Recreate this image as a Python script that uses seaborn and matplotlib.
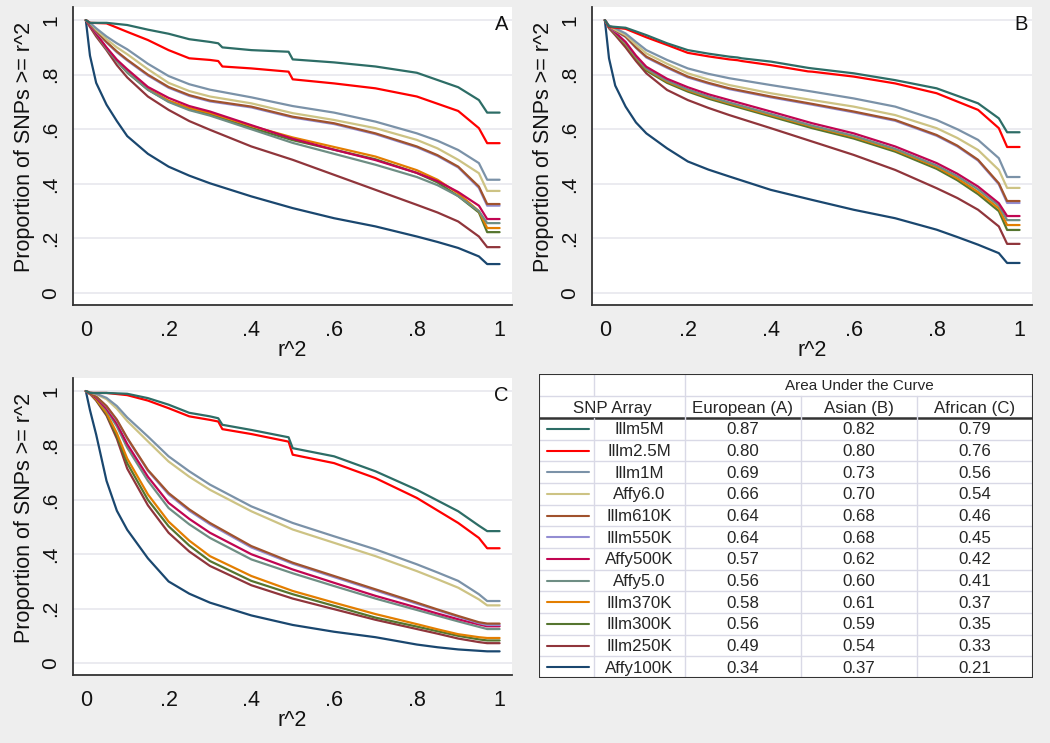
import numpy as np
import pandas as pd
import matplotlib
matplotlib.use("Agg")
import matplotlib.pyplot as plt
import seaborn as sns

# ---------------- data ----------------
ARRAYS = ["Illm5M", "Illm2.5M", "Illm1M", "Affy6.0", "Illm610K", "Illm550K",
          "Affy500K", "Affy5.0", "Illm370K", "Illm300K", "Illm250K", "Affy100K"]
COLORS = ["#2d6d66", "#ff0000", "#7b92a8", "#cdc384", "#a0522d", "#938dd2",
          "#c10552", "#6e8e84", "#e37e00", "#55752f", "#90353b", "#1a476f"]

AUC_EUROPEAN = [0.87, 0.80, 0.69, 0.66, 0.64, 0.64, 0.57, 0.56, 0.58, 0.56, 0.49, 0.34]
AUC_ASIAN = [0.82, 0.80, 0.73, 0.70, 0.68, 0.68, 0.62, 0.60, 0.61, 0.59, 0.54, 0.37]
AUC_AFRICAN = [0.79, 0.76, 0.56, 0.54, 0.46, 0.45, 0.42, 0.41, 0.37, 0.35, 0.33, 0.21]

# r^2 thresholds (common grid, and a finer one for the stepped top curves)
R2_GRID = [0, .01, .025, .05, .075, .1, .15, .2, .25, .3, .4, .5, .6, .7, .8, .85, .9, .95, .97, 1]
R2_STEP = [0, .01, .05, .1, .15, .2, .25, .3, .32, .33, .4, .49, .5, .6, .7, .8, .9, .95, .97, 1]
STEP_ARRAYS = ["Illm5M", "Illm2.5M"]

PANEL_A = {
    "Illm5M":   [1, .99, .99, .982, .965, .95, .93, .92, .915, .90, .89, .884, .856, .845, .83, .807, .754, .707, .661, .661],
    "Illm2.5M": [1, .99, .988, .957, .927, .89, .86, .854, .85, .83, .823, .811, .783, .768, .75, .72, .667, .604, .549, .549],
    "Illm1M":   [1, .99, .97, .94, .915, .893, .84, .795, .765, .745, .717, .685, .661, .628, .585, .558, .524, .476, .415, .415],
    "Affy6.0":  [1, .99, .965, .93, .90, .875, .82, .77, .74, .72, .695, .659, .634, .604, .561, .53, .488, .439, .374, .374],
    "Illm610K": [1, .985, .96, .92, .885, .855, .80, .755, .725, .705, .683, .646, .622, .585, .537, .505, .463, .39, .326, .326],
    "Illm550K": [1, .985, .958, .918, .882, .852, .797, .752, .722, .702, .68, .643, .619, .582, .534, .502, .46, .385, .32, .32],
    "Affy500K": [1, .98, .95, .90, .855, .82, .755, .715, .685, .665, .615, .565, .525, .487, .44, .41, .37, .32, .271, .271],
    "Affy5.0":  [1, .98, .948, .895, .85, .81, .745, .70, .67, .65, .60, .55, .51, .47, .425, .395, .355, .30, .256, .256],
    "Illm370K": [1, .98, .948, .897, .852, .812, .748, .705, .678, .66, .612, .57, .535, .50, .45, .415, .365, .30, .238, .238],
    "Illm300K": [1, .98, .947, .895, .85, .808, .745, .702, .675, .655, .605, .56, .525, .49, .44, .405, .355, .295, .223, .223],
    "Illm250K": [1, .975, .94, .89, .835, .79, .72, .671, .63, .598, .537, .488, .433, .378, .323, .295, .262, .207, .168, .168],
    "Affy100K": [1, .87, .77, .69, .63, .575, .51, .463, .43, .402, .354, .311, .274, .244, .207, .187, .165, .134, .106, .106],
}
PANEL_B = {
    "Illm5M":   [1, .977, .972, .945, .915, .89, .877, .866, .863, .86, .848, .825, .823, .805, .78, .75, .695, .64, .589, .589],
    "Illm2.5M": [1, .975, .968, .937, .909, .88, .867, .856, .853, .85, .835, .812, .811, .793, .768, .732, .671, .604, .535, .535],
    "Illm1M":   [1, .98, .97, .951, .92, .89, .854, .823, .803, .787, .762, .738, .713, .683, .634, .60, .561, .494, .425, .425],
    "Affy6.0":  [1, .978, .965, .945, .91, .878, .84, .805, .782, .762, .732, .707, .683, .652, .604, .568, .524, .451, .385, .385],
    "Illm610K": [1, .976, .962, .94, .90, .866, .828, .793, .77, .75, .72, .693, .665, .634, .579, .54, .488, .402, .337, .337],
    "Illm550K": [1, .975, .96, .938, .898, .863, .825, .79, .767, .747, .717, .69, .662, .631, .576, .537, .485, .398, .33, .33],
    "Affy500K": [1, .975, .955, .92, .87, .829, .785, .754, .728, .707, .665, .622, .585, .537, .476, .437, .39, .329, .282, .282],
    "Affy5.0":  [1, .974, .953, .915, .865, .822, .778, .746, .72, .698, .656, .613, .576, .528, .467, .428, .38, .32, .267, .267],
    "Illm370K": [1, .974, .952, .913, .863, .82, .775, .743, .717, .695, .652, .61, .572, .524, .462, .42, .37, .31, .249, .249],
    "Illm300K": [1, .973, .95, .91, .86, .815, .77, .738, .712, .69, .647, .604, .566, .518, .455, .413, .362, .30, .231, .231],
    "Illm250K": [1, .97, .945, .90, .85, .805, .744, .707, .678, .652, .604, .555, .506, .451, .384, .348, .305, .244, .18, .18],
    "Affy100K": [1, .86, .76, .683, .625, .585, .53, .482, .452, .427, .378, .341, .305, .274, .232, .205, .177, .146, .11, .11],
}
PANEL_C = {
    "Illm5M":   [1, .993, .993, .99, .974, .95, .92, .907, .90, .876, .857, .83, .79, .76, .705, .637, .558, .505, .485, .485],
    "Illm2.5M": [1, .993, .993, .985, .965, .937, .907, .894, .888, .86, .842, .814, .766, .735, .68, .607, .515, .46, .422, .422],
    "Illm1M":   [1, .995, .99, .975, .945, .903, .833, .76, .705, .656, .576, .515, .466, .418, .363, .333, .302, .253, .228, .228],
    "Affy6.0":  [1, .995, .988, .97, .935, .89, .815, .741, .685, .637, .558, .491, .442, .393, .338, .308, .277, .234, .212, .212],
    "Illm610K": [1, .99, .98, .945, .895, .828, .71, .625, .565, .515, .43, .369, .32, .271, .222, .197, .173, .15, .145, .145],
    "Illm550K": [1, .99, .98, .943, .892, .825, .707, .62, .56, .51, .425, .365, .316, .267, .218, .194, .17, .147, .14, .14],
    "Affy500K": [1, .99, .975, .935, .88, .805, .685, .589, .53, .479, .40, .344, .295, .247, .204, .182, .161, .142, .135, .135],
    "Affy5.0":  [1, .99, .975, .93, .87, .792, .67, .57, .51, .46, .381, .33, .283, .237, .195, .174, .153, .133, .125, .125],
    "Illm370K": [1, .99, .97, .92, .845, .752, .62, .52, .45, .393, .32, .265, .222, .18, .143, .124, .106, .095, .092, .092],
    "Illm300K": [1, .99, .968, .915, .835, .735, .60, .503, .432, .375, .302, .253, .21, .167, .134, .117, .10, .087, .083, .083],
    "Illm250K": [1, .99, .965, .91, .825, .715, .58, .479, .41, .357, .286, .237, .198, .159, .125, .108, .09, .077, .073, .073],
    "Affy100K": [1, .93, .84, .67, .56, .49, .385, .30, .255, .222, .175, .14, .115, .095, .068, .058, .05, .045, .043, .043],
}

PANEL_LETTERS = ["A", "B", "C"]
TICKS = [0, .2, .4, .6, .8, 1]
TICK_LABELS = ["0", ".2", ".4", ".6", ".8", "1"]
Y_LABEL = "Proportion of SNPs >= r^2"
X_LABEL = "r^2"
TABLE_TITLE = "Area Under the Curve"
TABLE_HEADERS = ["SNP Array", "European (A)", "Asian (B)", "African (C)"]

# ---------------- styling ----------------
sns.set_style("white")
plt.rcParams["font.family"] = ["Liberation Sans", "DejaVu Sans"]
BG = "#eeeeee"
palette = dict(zip(ARRAYS, COLORS))


def long_frame(panel):
    rows = []
    for name in ARRAYS:
        xs = R2_STEP if name in STEP_ARRAYS else R2_GRID
        for x, y in zip(xs, panel[name]):
            rows.append({"array": name, "r2": x, "prop": y})
    return pd.DataFrame(rows)


fig = plt.figure(figsize=(10.5, 7.43), dpi=100, facecolor=BG)
W, H = 1050.0, 743.0


def px_axes(left, top, right, bottom):
    return fig.add_axes([left / W, (H - bottom) / H, (right - left) / W, (bottom - top) / H])


axA = px_axes(73, 7, 512, 305)
axB = px_axes(592, 7, 1032, 305)
axC = px_axes(73, 378, 512, 675)

for ax, panel, letter in zip([axA, axB, axC], [PANEL_A, PANEL_B, PANEL_C], PANEL_LETTERS):
    df = long_frame(panel)
    sns.lineplot(data=df, x="r2", y="prop", hue="array", hue_order=ARRAYS[::-1],
                 palette=palette, estimator=None, sort=False, legend=False,
                 linewidth=1.6, ax=ax)
    ax.set_facecolor("white")
    ax.set_xlim(-0.031, 1.030)
    ax.set_ylim(-0.044, 1.048)
    ax.set_xticks(TICKS)
    ax.set_xticklabels(TICK_LABELS, fontsize=15.5)
    ax.set_yticks(TICKS)
    ax.set_yticklabels(TICK_LABELS, fontsize=15, rotation=90, va="center")
    ax.grid(axis="y", color="#e8e8ee", linewidth=1.2)
    ax.set_axisbelow(True)
    for s in ["top", "right"]:
        ax.spines[s].set_visible(False)
    for s in ["left", "bottom"]:
        ax.spines[s].set_color("#333333")
        ax.spines[s].set_linewidth(1.3)
    ax.tick_params(axis="both", direction="out", length=6, width=1.2, color="#333333",
                   labelcolor="#111111")
    ax.tick_params(axis="x", pad=5)
    ax.tick_params(axis="y", pad=3)
    ax.set_xlabel(X_LABEL, fontsize=15.5, labelpad=-1, color="#111111")
    ax.set_ylabel(Y_LABEL, fontsize=15.5, color="#111111")
    ax.yaxis.set_label_coords(-0.086, 0.53)
    ax.text(1.004, 0.985, letter, fontsize=14.5, ha="center", va="center", color="#111111")

# ---------------- AUC table ----------------
axT = px_axes(539, 374, 1033, 678)
TW, TH = 494.0, 304.0
axT.set_xlim(0, TW)
axT.set_ylim(TH, 0)
axT.axis("off")
axT.add_patch(plt.Rectangle((0, 0), TW, TH, facecolor="white", edgecolor="none", zorder=0))

col_edges = [0, 55, 146, 262, 378, 494]
head1, head2 = 22, 44
row_h = (TH - head2) / len(ARRAYS)
grid_c = "#d9d9e6"
FS = 12.2

# horizontal lines
axT.plot([0, TW], [head1, head1], color=grid_c, lw=1)
for i in range(1, len(ARRAYS)):
    y = head2 + i * row_h
    axT.plot([0, TW], [y, y], color=grid_c, lw=1)
axT.plot([0, TW], [head2, head2], color="#333333", lw=1.8)
# vertical lines
axT.plot([col_edges[1]] * 2, [0, head1], color=grid_c, lw=1)
axT.plot([col_edges[1]] * 2, [head2, TH], color=grid_c, lw=1)
axT.plot([col_edges[2]] * 2, [0, TH], color=grid_c, lw=1)
for c in col_edges[3:5]:
    axT.plot([c, c], [head1, TH], color=grid_c, lw=1)
axT.add_patch(plt.Rectangle((0, 0), TW, TH, facecolor="none", edgecolor="#333333", lw=1.5, zorder=5))

axT.text((col_edges[2] + TW) / 2, head1 / 2 + 1, TABLE_TITLE, fontsize=11, ha="center", va="center")
axT.text(col_edges[2] / 2, (head1 + head2) / 2 + 1, TABLE_HEADERS[0], fontsize=FS, ha="center", va="center")
for j, hdr in enumerate(TABLE_HEADERS[1:]):
    cx = (col_edges[j + 2] + col_edges[j + 3]) / 2
    axT.text(cx, (head1 + head2) / 2 + 1, hdr, fontsize=FS, ha="center", va="center")

for i, name in enumerate(ARRAYS):
    yc = head2 + (i + 0.5) * row_h + 1
    axT.plot([8, 50], [yc - 1, yc - 1], color=palette[name], lw=1.5)
    axT.text((col_edges[1] + col_edges[2]) / 2, yc, name, fontsize=FS, ha="center", va="center")
    for j, vals in enumerate([AUC_EUROPEAN, AUC_ASIAN, AUC_AFRICAN]):
        cx = (col_edges[j + 2] + col_edges[j + 3]) / 2
        axT.text(cx, yc, f"{vals[i]:.2f}", fontsize=FS, ha="center", va="center")

fig.savefig("out.png", dpi=100, facecolor=BG)
